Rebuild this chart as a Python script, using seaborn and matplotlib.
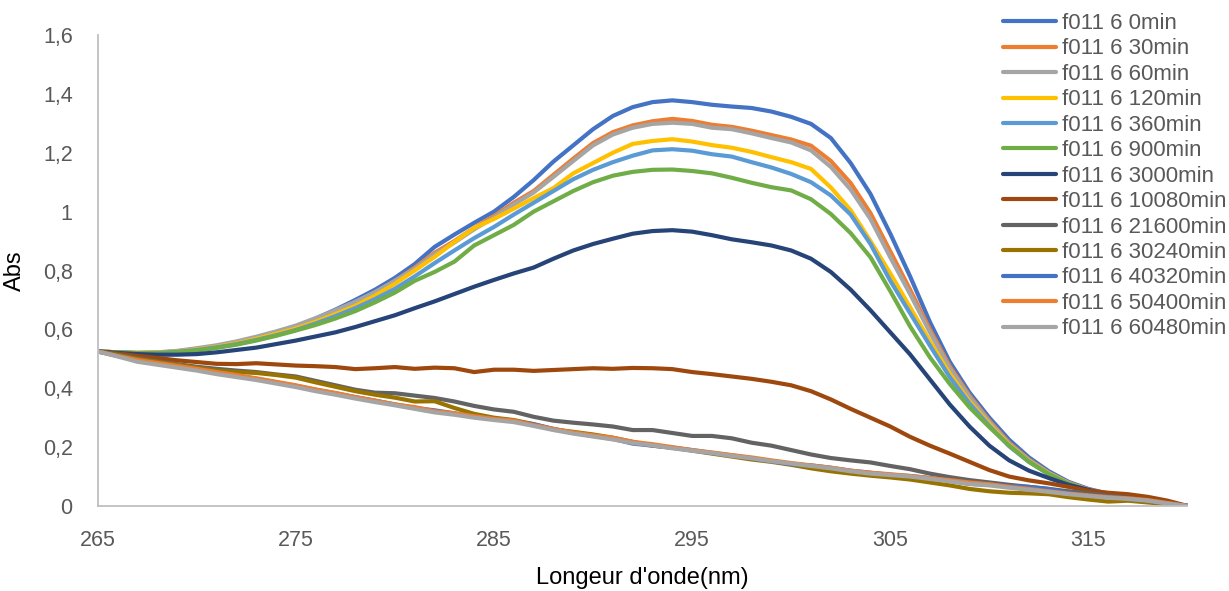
import matplotlib
matplotlib.use("Agg")
import matplotlib.pyplot as plt
import seaborn as sns
import pandas as pd

wavelength = list(range(265, 321))

labels = ["f011 6 0min", "f011 6 30min", "f011 6 60min", "f011 6 120min",
          "f011 6 360min", "f011 6 900min", "f011 6 3000min", "f011 6 10080min",
          "f011 6 21600min", "f011 6 30240min", "f011 6 40320min",
          "f011 6 50400min", "f011 6 60480min"]

colors = ["#4472C4", "#ED7D31", "#A5A5A5", "#FFC000", "#5B9BD5", "#70AD47",
          "#264478", "#9E480E", "#636363", "#997300", "#4472C4", "#ED7D31",
          "#A5A5A5"]

s0 = [0.525, 0.522, 0.520, 0.521, 0.525, 0.533, 0.543, 0.556, 0.572, 0.590,
      0.610, 0.637, 0.667, 0.700, 0.735, 0.775, 0.822, 0.880, 0.922, 0.962,
      1.000, 1.050, 1.107, 1.170, 1.225, 1.280, 1.325, 1.355, 1.372, 1.378,
      1.372, 1.363, 1.357, 1.352, 1.340, 1.322, 1.298, 1.250, 1.165, 1.060,
      0.925, 0.780, 0.625, 0.490, 0.385, 0.300, 0.225, 0.165, 0.118, 0.082,
      0.058, 0.042, 0.030, 0.020, 0.010, 0.000]
s30 = [0.525, 0.522, 0.520, 0.521, 0.525, 0.533, 0.542, 0.555, 0.571, 0.589,
       0.608, 0.633, 0.660, 0.690, 0.725, 0.765, 0.810, 0.860, 0.900, 0.945,
       0.985, 1.030, 1.070, 1.125, 1.180, 1.233, 1.270, 1.293, 1.307, 1.315,
       1.308, 1.295, 1.288, 1.275, 1.260, 1.245, 1.224, 1.172, 1.097, 0.995,
       0.865, 0.735, 0.600, 0.475, 0.375, 0.290, 0.215, 0.158, 0.113, 0.079,
       0.056, 0.040, 0.029, 0.019, 0.009, 0.000]
s60 = [0.525, 0.522, 0.520, 0.522, 0.527, 0.536, 0.546, 0.559, 0.575, 0.593,
       0.613, 0.638, 0.665, 0.694, 0.727, 0.765, 0.806, 0.855, 0.895, 0.940,
       0.980, 1.024, 1.065, 1.118, 1.172, 1.225, 1.262, 1.285, 1.298, 1.302,
       1.298, 1.285, 1.280, 1.266, 1.250, 1.235, 1.208, 1.152, 1.075, 0.975,
       0.845, 0.720, 0.590, 0.468, 0.370, 0.286, 0.212, 0.156, 0.112, 0.078,
       0.055, 0.039, 0.028, 0.018, 0.009, 0.000]
s120 = [0.525, 0.522, 0.520, 0.521, 0.525, 0.532, 0.541, 0.553, 0.568, 0.585,
        0.603, 0.626, 0.652, 0.680, 0.715, 0.755, 0.800, 0.846, 0.897, 0.945,
        0.975, 1.010, 1.046, 1.080, 1.130, 1.165, 1.200, 1.230, 1.240, 1.246,
        1.238, 1.226, 1.217, 1.203, 1.185, 1.168, 1.145, 1.082, 1.005, 0.900,
        0.790, 0.675, 0.560, 0.450, 0.355, 0.278, 0.207, 0.152, 0.110, 0.077,
        0.054, 0.039, 0.028, 0.018, 0.009, 0.000]
s360 = [0.525, 0.522, 0.519, 0.520, 0.524, 0.530, 0.539, 0.550, 0.564, 0.580,
        0.598, 0.620, 0.645, 0.672, 0.703, 0.738, 0.780, 0.825, 0.868, 0.910,
        0.948, 0.990, 1.030, 1.070, 1.110, 1.142, 1.168, 1.190, 1.208, 1.212,
        1.207, 1.195, 1.187, 1.168, 1.150, 1.128, 1.100, 1.055, 0.990, 0.890,
        0.765, 0.655, 0.545, 0.438, 0.348, 0.272, 0.203, 0.150, 0.108, 0.076,
        0.053, 0.038, 0.027, 0.018, 0.009, 0.000]
s900 = [0.525, 0.522, 0.519, 0.519, 0.522, 0.528, 0.537, 0.548, 0.562, 0.578,
        0.596, 0.615, 0.637, 0.662, 0.692, 0.725, 0.765, 0.795, 0.830, 0.885,
        0.920, 0.955, 1.000, 1.035, 1.070, 1.100, 1.122, 1.135, 1.142, 1.143,
        1.138, 1.130, 1.115, 1.098, 1.083, 1.072, 1.042, 0.992, 0.927, 0.845,
        0.730, 0.610, 0.505, 0.415, 0.335, 0.268, 0.205, 0.150, 0.108, 0.076,
        0.053, 0.038, 0.027, 0.017, 0.008, 0.000]
s3000 = [0.525, 0.520, 0.516, 0.514, 0.514, 0.516, 0.522, 0.530, 0.538, 0.550,
         0.562, 0.576, 0.590, 0.608, 0.628, 0.648, 0.672, 0.695, 0.720, 0.745,
         0.768, 0.790, 0.810, 0.840, 0.868, 0.890, 0.908, 0.925, 0.934, 0.937,
         0.932, 0.920, 0.906, 0.896, 0.885, 0.868, 0.840, 0.795, 0.735, 0.665,
         0.590, 0.515, 0.430, 0.345, 0.270, 0.205, 0.155, 0.120, 0.095, 0.072,
         0.055, 0.040, 0.030, 0.020, 0.010, 0.000]
s10080 = [0.525, 0.518, 0.510, 0.503, 0.495, 0.489, 0.483, 0.482, 0.485, 0.481,
          0.477, 0.475, 0.472, 0.465, 0.468, 0.472, 0.466, 0.470, 0.468, 0.455,
          0.463, 0.463, 0.459, 0.462, 0.465, 0.468, 0.466, 0.469, 0.468, 0.465,
          0.455, 0.448, 0.440, 0.432, 0.422, 0.410, 0.390, 0.362, 0.330, 0.300,
          0.270, 0.235, 0.205, 0.178, 0.150, 0.122, 0.100, 0.087, 0.077, 0.065,
          0.052, 0.045, 0.040, 0.031, 0.018, 0.000]
s21600 = [0.525, 0.515, 0.503, 0.492, 0.482, 0.473, 0.466, 0.460, 0.455, 0.447,
          0.440, 0.425, 0.410, 0.395, 0.385, 0.383, 0.375, 0.367, 0.355, 0.340,
          0.328, 0.320, 0.303, 0.290, 0.283, 0.277, 0.270, 0.258, 0.258, 0.248,
          0.238, 0.238, 0.230, 0.215, 0.205, 0.190, 0.175, 0.163, 0.155, 0.148,
          0.136, 0.125, 0.110, 0.098, 0.088, 0.080, 0.072, 0.065, 0.058, 0.050,
          0.043, 0.035, 0.028, 0.020, 0.010, 0.000]
s30240 = [0.525, 0.513, 0.500, 0.490, 0.480, 0.470, 0.460, 0.455, 0.452, 0.445,
          0.436, 0.420, 0.405, 0.390, 0.378, 0.368, 0.355, 0.356, 0.333, 0.313,
          0.300, 0.292, 0.278, 0.260, 0.252, 0.243, 0.232, 0.218, 0.205, 0.198,
          0.188, 0.178, 0.168, 0.158, 0.150, 0.140, 0.128, 0.118, 0.110, 0.103,
          0.097, 0.090, 0.080, 0.070, 0.058, 0.050, 0.045, 0.043, 0.040, 0.030,
          0.022, 0.015, 0.018, 0.012, 0.006, 0.000]
s40320 = [0.525, 0.510, 0.495, 0.485, 0.475, 0.465, 0.452, 0.442, 0.432, 0.420,
          0.408, 0.395, 0.383, 0.370, 0.358, 0.345, 0.333, 0.325, 0.315, 0.303,
          0.295, 0.288, 0.278, 0.262, 0.248, 0.238, 0.228, 0.212, 0.205, 0.198,
          0.190, 0.180, 0.172, 0.162, 0.152, 0.142, 0.138, 0.130, 0.120, 0.113,
          0.106, 0.102, 0.095, 0.085, 0.075, 0.072, 0.068, 0.065, 0.058, 0.045,
          0.035, 0.030, 0.025, 0.018, 0.009, 0.000]
s50400 = [0.525, 0.510, 0.496, 0.486, 0.476, 0.466, 0.455, 0.445, 0.434, 0.422,
          0.410, 0.396, 0.384, 0.370, 0.358, 0.345, 0.336, 0.322, 0.315, 0.305,
          0.296, 0.290, 0.275, 0.262, 0.250, 0.240, 0.232, 0.218, 0.210, 0.200,
          0.190, 0.182, 0.173, 0.165, 0.155, 0.146, 0.138, 0.130, 0.120, 0.113,
          0.108, 0.102, 0.095, 0.088, 0.080, 0.074, 0.065, 0.058, 0.050, 0.042,
          0.036, 0.030, 0.026, 0.020, 0.010, 0.000]
s60480 = [0.525, 0.508, 0.490, 0.480, 0.470, 0.460, 0.448, 0.438, 0.428, 0.416,
          0.404, 0.390, 0.378, 0.365, 0.353, 0.342, 0.330, 0.318, 0.310, 0.300,
          0.292, 0.285, 0.272, 0.258, 0.246, 0.236, 0.226, 0.214, 0.206, 0.196,
          0.188, 0.180, 0.170, 0.162, 0.152, 0.144, 0.136, 0.128, 0.118, 0.110,
          0.105, 0.100, 0.092, 0.084, 0.075, 0.070, 0.062, 0.055, 0.048, 0.040,
          0.034, 0.028, 0.024, 0.018, 0.008, 0.000]

series = [s0, s30, s60, s120, s360, s900, s3000, s10080, s21600, s30240,
          s40320, s50400, s60480]

x_ticks = [265, 275, 285, 295, 305, 315]
y_ticks = [0, 0.2, 0.4, 0.6, 0.8, 1.0, 1.2, 1.4, 1.6]
y_tick_labels = ["0", "0,2", "0,4", "0,6", "0,8", "1", "1,2", "1,4", "1,6"]

rows = []
for lab, vals in zip(labels, series):
    for w, v in zip(wavelength, vals):
        rows.append({"wl": w, "abs": v, "serie": lab})
df = pd.DataFrame(rows)

sns.set_theme(style="white")
plt.rcParams["font.family"] = ["Liberation Sans", "DejaVu Sans"]

W, H = 1229, 591
fig = plt.figure(figsize=(W / 100, H / 100), dpi=100)
ax = fig.add_axes([97.7 / W, 1 - 506 / H, (1187.5 - 97.7) / W, (506 - 35) / H])

sns.lineplot(data=df, x="wl", y="abs", hue="serie", hue_order=labels,
             palette=colors, linewidth=3.0, sort=False, ax=ax, legend=True)

ax.set_xlim(265, 320)
ax.set_ylim(0, 1.6)
ax.set_xticks(x_ticks)
ax.set_xticklabels([str(t) for t in x_ticks])
ax.set_yticks(y_ticks)
ax.set_yticklabels(y_tick_labels)

axis_col = "#BFBFBF"
for side in ["top", "right"]:
    ax.spines[side].set_visible(False)
for side in ["left", "bottom"]:
    ax.spines[side].set_color(axis_col)
    ax.spines[side].set_linewidth(1.3)
ax.tick_params(axis="both", which="major", direction="out", length=7,
               width=1.3, color=axis_col, labelcolor="#595959", labelsize=15.5)
ax.tick_params(axis="x", pad=10)
ax.tick_params(axis="y", pad=11)
ax.grid(False)

ax.set_xlabel("Longeur d'onde(nm)", fontsize=17, color="black", labelpad=12)
ax.set_ylabel("Abs", fontsize=17, color="black", labelpad=12)

handles, labs = ax.get_legend_handles_labels()
for h in handles:
    h.set_linewidth(3.0)
ax.legend(handles, labs, loc="upper left",
          bbox_to_anchor=(1003 / W, 1 - 13 / H), bbox_transform=fig.transFigure,
          frameon=False, fontsize=16, labelcolor="#595959",
          handlelength=2.4, handletextpad=0.25, labelspacing=0.2,
          borderpad=0, borderaxespad=0)

fig.savefig("out.png", dpi=100, facecolor="white")
